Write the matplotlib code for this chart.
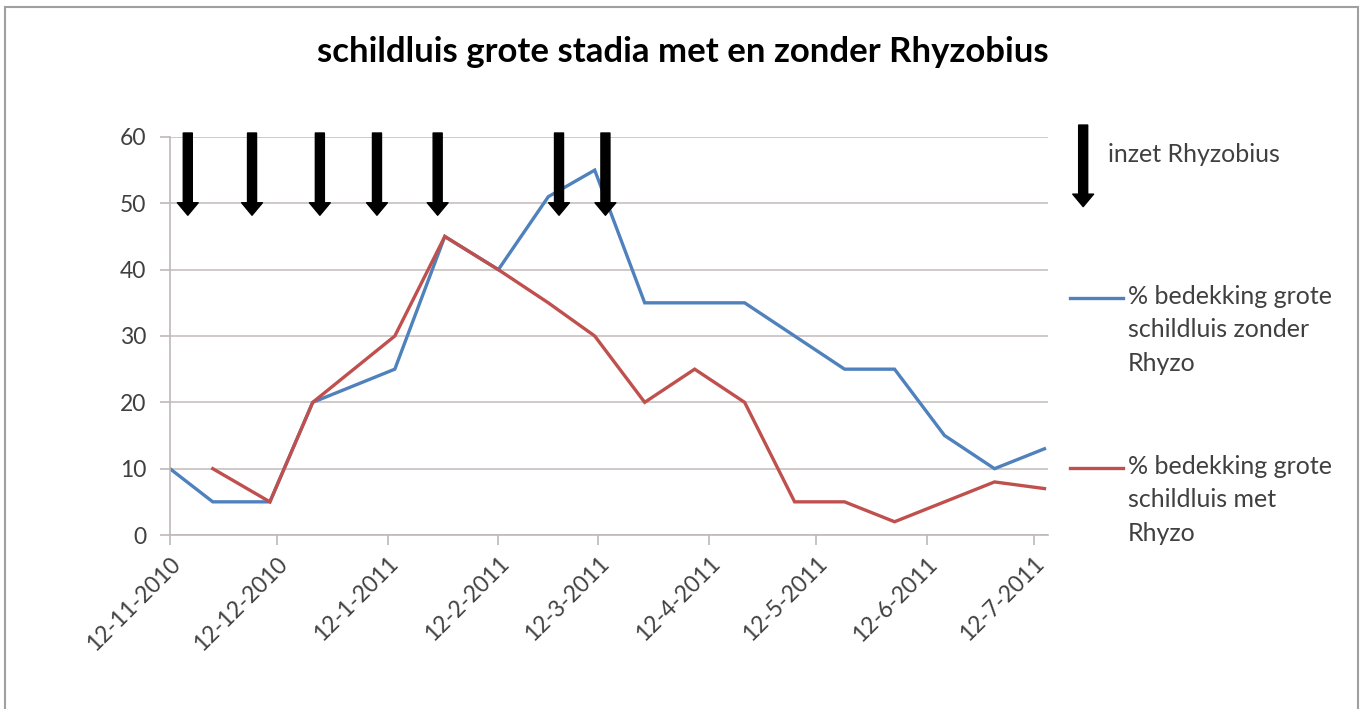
import matplotlib.pyplot as plt
from matplotlib.patches import Rectangle
from matplotlib.lines import Line2D
import numpy as np

plt.rcParams['font.family'] = ['Lato', 'DejaVu Sans']

# data
zonder_dates = ['2010-11-12', '2010-11-24', '2010-12-10', '2010-12-22', '2011-01-14',
                '2011-01-28', '2011-02-12', '2011-02-26', '2011-03-11', '2011-03-25',
                '2011-04-08', '2011-04-22', '2011-05-06', '2011-05-20', '2011-06-03',
                '2011-06-17', '2011-07-01', '2011-07-15']
zonder_vals = [10, 5, 5, 20, 25, 45, 40, 51, 55, 35, 35, 35, 30, 25, 25, 15, 10, 13]

met_dates = ['2010-11-24', '2010-12-10', '2010-12-22', '2011-01-14', '2011-01-28',
             '2011-02-12', '2011-02-26', '2011-03-11', '2011-03-25', '2011-04-08',
             '2011-04-22', '2011-05-06', '2011-05-20', '2011-06-03', '2011-06-17',
             '2011-07-01', '2011-07-15']
met_vals = [10, 5, 20, 30, 45, 40, 35, 30, 20, 25, 20, 5, 5, 2, 5, 8, 7]

# inzet Rhyzobius (pijlen)
inzet_dates = ['2010-11-17', '2010-12-05', '2010-12-24', '2011-01-09', '2011-01-26',
               '2011-03-01', '2011-03-14']

tick_dates = ['2010-11-12', '2010-12-12', '2011-01-12', '2011-02-12', '2011-03-12',
              '2011-04-12', '2011-05-12', '2011-06-12', '2011-07-12']
tick_labels = ['12-11-2010', '12-12-2010', '12-1-2011', '12-2-2011', '12-3-2011',
               '12-4-2011', '12-5-2011', '12-6-2011', '12-7-2011']

blauw = '#4F81BD'
rood = '#C0504D'
grijs = '#404040'

to_d = lambda l: np.array(l, dtype='datetime64[D]')
pijl = dict(facecolor='black', edgecolor='black', width=6.5,
            headwidth=15, headlength=9, shrink=0)

fig = plt.figure(figsize=(13.65, 7.09), dpi=100)
ax = fig.add_axes([0.1245, 0.2454, 0.6433, 0.5614])

ax.plot(to_d(zonder_dates), zonder_vals, color=blauw, lw=2.4, solid_joinstyle='miter')
ax.plot(to_d(met_dates), met_vals, color=rood, lw=2.4, solid_joinstyle='miter')

ax.set_ylim(0, 60)
ax.set_xlim(np.datetime64('2010-11-12'), np.datetime64('2011-07-16'))
ax.set_yticks(range(0, 61, 10))
ax.yaxis.grid(True, color='#c8c0c0', lw=1.2)
ax.set_axisbelow(True)
ax.set_xticks(to_d(tick_dates))
ax.set_xticklabels(tick_labels, rotation=45, ha='right', rotation_mode='anchor')

for s in ['top', 'right']:
    ax.spines[s].set_visible(False)
for s in ['left', 'bottom']:
    ax.spines[s].set_color('#c0b8b8')
    ax.spines[s].set_linewidth(1.2)
ax.tick_params(axis='both', colors='#c0b8b8', length=7, width=1.2, labelcolor=grijs,
               labelsize=16.5)
ax.tick_params(axis='y', pad=10)
ax.tick_params(axis='x', pad=6)

# pijlen
for d in to_d(inzet_dates):
    ax.annotate('', xy=(d, 48.2), xytext=(d, 60.6), xycoords='data',
                arrowprops=pijl, annotation_clip=False)

# legenda
ax.annotate('', xy=(1.04, 0.825), xytext=(1.04, 1.03), xycoords='axes fraction',
            arrowprops=pijl, annotation_clip=False)
ax.text(1.068, 0.955, 'inzet Rhyzobius', transform=ax.transAxes, fontsize=18,
        color=grijs, va='center', ha='left')

ax.add_line(Line2D([1.025, 1.085], [0.595, 0.595], transform=ax.transAxes,
                   color=blauw, lw=2.4, clip_on=False))
ax.text(1.091, 0.629, '% bedekking grote\nschildluis zonder\nRhyzo', transform=ax.transAxes,
        fontsize=18, color=grijs, va='top', ha='left', linespacing=1.55)
ax.add_line(Line2D([1.025, 1.085], [0.168, 0.168], transform=ax.transAxes,
                   color=rood, lw=2.4, clip_on=False))
ax.text(1.091, 0.202, '% bedekking grote\nschildluis met\nRhyzo', transform=ax.transAxes,
        fontsize=18, color=grijs, va='top', ha='left', linespacing=1.55)

fig.text(0.5, 0.926, 'schildluis grote stadia met en zonder Rhyzobius', ha='center',
         va='center', fontsize=25, fontweight='bold', color='black')

# kader rond de grafiek
fig.patches.append(Rectangle((0.004, -0.01), 0.991, 1.0, transform=fig.transFigure,
                             fill=False, edgecolor='#a0a0a0', lw=1.5))

fig.savefig('out.png', dpi=100)
